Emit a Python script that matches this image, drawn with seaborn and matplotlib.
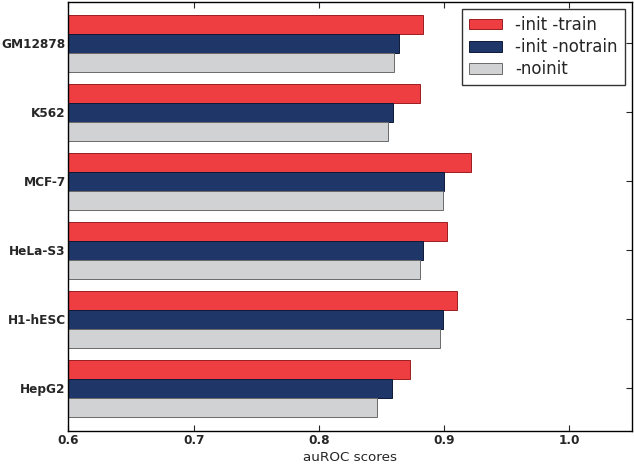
import matplotlib
matplotlib.use("Agg")
import matplotlib.pyplot as plt
import seaborn as sns
import pandas as pd

cell_lines = ["GM12878", "K562", "MCF-7", "HeLa-S3", "H1-hESC", "HepG2"]
init_train = [0.883, 0.881, 0.921, 0.902, 0.910, 0.873]
init_notrain = [0.864, 0.859, 0.900, 0.883, 0.899, 0.858]
noinit = [0.860, 0.855, 0.899, 0.881, 0.897, 0.846]
series_names = ["-init -train", "-init -notrain", "-noinit"]
colors = ["#ee3e42", "#1f3668", "#d1d2d4"]
edges = ["#9a1e22", "#0e1a38", "#6a6a6a"]

rows = []
for name, vals in zip(series_names, [init_train, init_notrain, noinit]):
    for c, v in zip(cell_lines, vals):
        rows.append({"cell": c, "score": v, "method": name})
df = pd.DataFrame(rows)

sns.set_style("ticks", {"xtick.direction": "in", "ytick.direction": "in"})
plt.rcParams["font.family"] = ["DejaVu Sans"]

fig = plt.figure(figsize=(6.34, 4.66), dpi=100)
ax = fig.add_axes([0.108, 0.075, 0.889, 0.921])

sns.barplot(data=df, y="cell", x="score", hue="method", order=cell_lines,
            hue_order=series_names, palette=colors, orient="h", width=0.83,
            saturation=1, ax=ax, errorbar=None)

n = len(cell_lines)
for i, patch in enumerate(ax.patches[:3 * n]):
    patch.set_edgecolor(edges[i // n])
    patch.set_linewidth(0.7)

ax.set_xlim(0.6, 1.05)
ax.set_ylim(5.62, -0.6)
ax.set_xticks([0.6, 0.7, 0.8, 0.9, 1.0])
ax.set_xticklabels(["0.6", "0.7", "0.8", "0.9", "1.0"])
ax.set_xlabel("auROC scores", fontsize=9.7, labelpad=3)
ax.set_ylabel("")
ax.tick_params(axis="both", labelsize=8.7, length=4, width=0.8,
               top=True, right=True, direction="in", pad=2)
for lab in ax.get_xticklabels() + ax.get_yticklabels():
    lab.set_fontweight("bold")
for s in ax.spines.values():
    s.set_visible(True)
    s.set_linewidth(1.0)
    s.set_color("black")

leg = ax.legend(loc="upper right", fontsize=12, frameon=True, fancybox=False,
                borderaxespad=0.45, handlelength=2.0, handleheight=0.6,
                labelspacing=0.25, borderpad=0.4, handletextpad=0.8)
leg.get_frame().set_edgecolor("black")
leg.get_frame().set_linewidth(1.0)
for h, e in zip(leg.legend_handles, edges):
    h.set_edgecolor(e)
    h.set_linewidth(0.7)

fig.savefig("out.png", dpi=100)
